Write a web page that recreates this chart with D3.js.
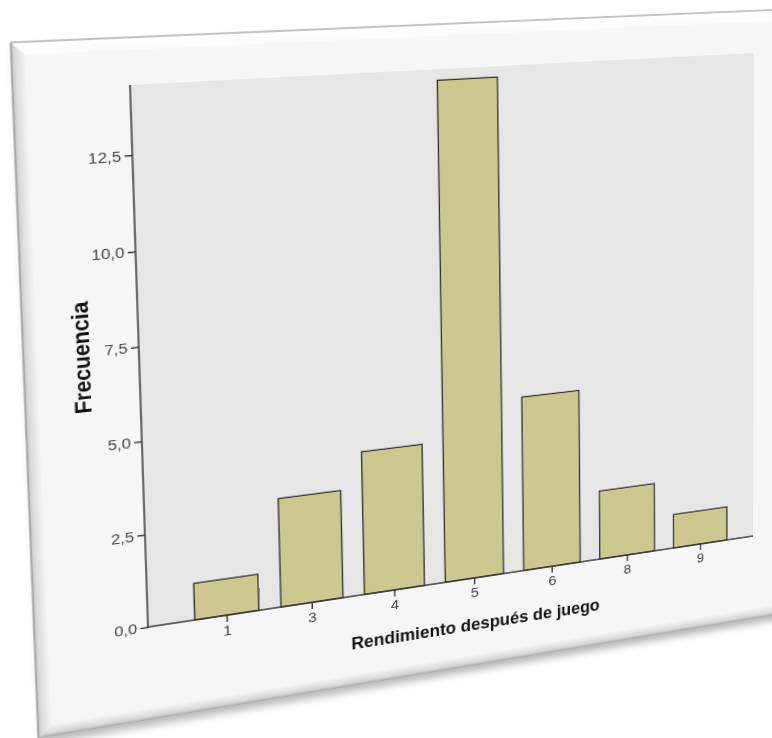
<!DOCTYPE html>
<html>
<head>
<meta charset="utf-8">
<script src="https://cdn.jsdelivr.net/npm/d3@7/dist/d3.min.js"></script>
<style>
  html, body { margin: 0; padding: 0; background: #ffffff; overflow: hidden; }
  body { width: 772px; height: 738px; position: relative; }
  #card { position: absolute; left: 0; top: 0; transform-origin: 0 0; }
  text { font-family: "Liberation Sans", Arial, sans-serif; }
</style>
</head>
<body>
<div id="card"></div>
<script>
// Frequency table: "Rendimiento después de juego"
const categories = ["1", "3", "4", "5", "6", "8", "9"];
const frecuencias = [1, 3, 4, 14, 5, 2, 1];
const yTickValues = [0, 2.5, 5, 7.5, 10, 12.5];
const yDomainMax = 14.3;
const xTitle = "Rendimiento después de juego";
const yTitle = "Frecuencia";

// Flat chart geometry (plot area), before the card is tilted
const PW = 624, PH = 542;
const OX = 150, OY = 70;
const SW = OX + PW + 140, SH = OY + PH + 150;

// Card (paper) edges relative to the plot origin
const card = { x0: -102, y0: -46, x1: PW + 70, y1: PH + 96 };
const bev = 12;

const svg = d3.select("#card").append("svg")
  .attr("width", SW).attr("height", SH);

const defs = svg.append("defs");
const gl = defs.append("linearGradient").attr("id", "bevLeft")
  .attr("x1", 0).attr("x2", 1).attr("y1", 0).attr("y2", 0);
gl.append("stop").attr("offset", 0).attr("stop-color", "#bdbdbd");
gl.append("stop").attr("offset", 0.25).attr("stop-color", "#dadada");
gl.append("stop").attr("offset", 1).attr("stop-color", "#f4f4f4");
const gb = defs.append("linearGradient").attr("id", "bevBottom")
  .attr("x1", 0).attr("x2", 0).attr("y1", 0).attr("y2", 1);
gb.append("stop").attr("offset", 0).attr("stop-color", "#f5f5f5");
gb.append("stop").attr("offset", 0.7).attr("stop-color", "#d6d6d6");
gb.append("stop").attr("offset", 1).attr("stop-color", "#a8a8a8");
const gt = defs.append("linearGradient").attr("id", "bevTop")
  .attr("x1", 0).attr("x2", 0).attr("y1", 0).attr("y2", 1);
gt.append("stop").attr("offset", 0).attr("stop-color", "#ffffff");
gt.append("stop").attr("offset", 1).attr("stop-color", "#fbfbfb");
const sh = defs.append("filter").attr("id", "shadow")
  .attr("x", "-10%").attr("y", "-10%").attr("width", "120%").attr("height", "130%");
sh.append("feGaussianBlur").attr("stdDeviation", 4);

const root = svg.append("g").attr("transform", `translate(${OX},${OY})`);

// Paper with bevelled frame and a soft drop shadow
root.append("rect")
  .attr("x", card.x0 + 4).attr("y", card.y0 + 6)
  .attr("width", card.x1 - card.x0).attr("height", card.y1 - card.y0)
  .attr("fill", "#000").attr("opacity", 0.28).attr("filter", "url(#shadow)");
root.append("rect")
  .attr("x", card.x0).attr("y", card.y0)
  .attr("width", card.x1 - card.x0).attr("height", card.y1 - card.y0)
  .attr("fill", "#f6f6f6");
const poly = pts => pts.map(p => p.join(",")).join(" ");
root.append("polygon").attr("fill", "url(#bevTop)")
  .attr("points", poly([[card.x0, card.y0], [card.x1, card.y0], [card.x1 - bev, card.y0 + bev], [card.x0 + bev, card.y0 + bev]]));
root.append("polygon").attr("fill", "url(#bevLeft)")
  .attr("points", poly([[card.x0, card.y0], [card.x0 + bev, card.y0 + bev], [card.x0 + bev, card.y1 - bev], [card.x0, card.y1]]));
root.append("polygon").attr("fill", "url(#bevBottom)")
  .attr("points", poly([[card.x0, card.y1], [card.x0 + bev, card.y1 - bev], [card.x1 - bev, card.y1 - bev], [card.x1, card.y1]]));
root.append("path")
  .attr("d", `M${card.x0},${card.y1} L${card.x0},${card.y0} L${card.x1},${card.y0}`)
  .attr("fill", "none").attr("stroke", "#8a8a8a").attr("stroke-width", 1);

// Plot background
root.append("rect").attr("x", 0).attr("y", 0).attr("width", PW).attr("height", PH)
  .attr("fill", "#e6e6e6");

// Scales
const x = d3.scaleBand().domain(categories).range([0, PW])
  .paddingInner(0.26).paddingOuter(0.45).align(0.59);
const y = d3.scaleLinear().domain([0, yDomainMax]).range([PH, 0]);

// Bars
root.append("g").selectAll("rect")
  .data(categories.map((c, i) => ({ c, v: frecuencias[i] })))
  .join("rect")
  .attr("x", d => x(d.c))
  .attr("y", d => y(d.v))
  .attr("width", x.bandwidth())
  .attr("height", d => y(0) - y(d.v))
  .attr("fill", "#cdc88f")
  .attr("stroke", "#2e2e2e")
  .attr("stroke-width", 1.3);

// Y axis
const fmt = v => d3.format(".1f")(v).replace(".", ",");
const yAxis = root.append("g")
  .call(d3.axisLeft(y).tickValues(yTickValues).tickFormat(fmt).tickSize(7).tickPadding(3));
yAxis.select(".domain").attr("d", `M0,0V${PH}`).attr("stroke", "#333").attr("stroke-width", 1.4);
yAxis.selectAll(".tick line").attr("stroke", "#333").attr("stroke-width", 1.4);
yAxis.selectAll(".tick text").attr("fill", "#444").attr("font-size", 15);

// X axis
const xAxis = root.append("g").attr("transform", `translate(0,${PH})`)
  .call(d3.axisBottom(x).tickSize(7).tickPadding(3));
xAxis.select(".domain").attr("d", `M0,0H${PW}`).attr("stroke", "#333").attr("stroke-width", 1.4);
xAxis.selectAll(".tick line").attr("stroke", "#333").attr("stroke-width", 1.4);
xAxis.selectAll(".tick text").attr("fill", "#444").attr("font-size", 15);

// Axis titles
root.append("text")
  .attr("transform", `translate(-44,${PH / 2 - 8}) rotate(-90)`)
  .attr("text-anchor", "middle")
  .attr("font-size", 21).attr("font-weight", "bold").attr("fill", "#111")
  .text(yTitle);
root.append("text")
  .attr("x", PW / 2 + 10).attr("y", PH + 57)
  .attr("text-anchor", "middle")
  .attr("font-size", 17.5).attr("font-weight", "bold").attr("fill", "#111")
  .text(xTitle);

// Tilt the whole card: projective map from the flat plot corners to the viewed corners
function homography(src, dst) {
  const A = [], b = [];
  for (let i = 0; i < 4; i++) {
    const [X, Y] = src[i], [u, v] = dst[i];
    A.push([X, Y, 1, 0, 0, 0, -u * X, -u * Y]); b.push(u);
    A.push([0, 0, 0, X, Y, 1, -v * X, -v * Y]); b.push(v);
  }
  const n = 8;
  for (let c = 0; c < n; c++) {
    let p = c;
    for (let r = c + 1; r < n; r++) if (Math.abs(A[r][c]) > Math.abs(A[p][c])) p = r;
    [A[c], A[p]] = [A[p], A[c]]; [b[c], b[p]] = [b[p], b[c]];
    for (let r = 0; r < n; r++) {
      if (r === c) continue;
      const f = A[r][c] / A[c][c];
      for (let k = c; k < n; k++) A[r][k] -= f * A[c][k];
      b[r] -= f * b[c];
    }
  }
  return b.map((v, i) => v / A[i][i]);
}
const src = [[OX, OY], [OX + PW, OY], [OX + PW, OY + PH], [OX, OY + PH]];
const dst = [[130, 85], [754, 53], [753, 536], [148, 627]];
const h = homography(src, dst);
d3.select("#card").style("transform",
  `matrix3d(${h[0]},${h[3]},0,${h[6]},${h[1]},${h[4]},0,${h[7]},0,0,1,0,${h[2]},${h[5]},0,1)`);
</script>
</body>
</html>
